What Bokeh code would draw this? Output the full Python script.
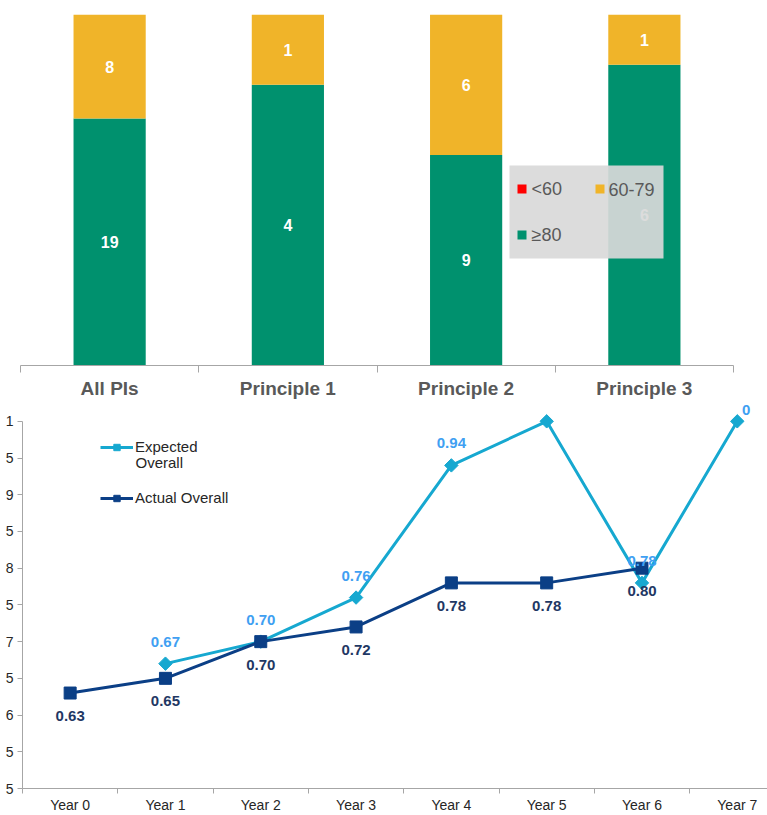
import numpy as np
from bokeh.plotting import figure
from bokeh.models import (ColumnDataSource, FixedTicker, Range1d, Legend, LegendItem,
                          BoxAnnotation, Label)
from bokeh.core.properties import value
from bokeh.embed import file_html
from bokeh.resources import INLINE

# ---------------- data: top chart (stacked 100% bars) ----------------
categories = ["All PIs", "Principle 1", "Principle 2", "Principle 3"]
count_below60 = [0, 0, 0, 0]
count_60_79 = [8, 1, 6, 1]
count_80_up = [19, 4, 9, 6]
band_names = ["<60", "60-79", "≥80"]

# ---------------- data: bottom chart (lines) ----------------
years = ["Year 0", "Year 1", "Year 2", "Year 3", "Year 4", "Year 5", "Year 6", "Year 7"]
expected_overall = [np.nan, 0.67, 0.70, 0.76, 0.94, 1.00, 0.78, 1.00]
actual_overall = [0.63, 0.65, 0.70, 0.72, 0.78, 0.78, 0.80, np.nan]
expected_labels = ["", "0.67", "0.70", "0.76", "0.94", "", "0.78", "0"]
actual_labels = ["0.63", "0.65", "0.70", "0.72", "0.78", "0.78", "0.80", ""]
y_ticks = [0.5, 0.55, 0.6, 0.65, 0.7, 0.75, 0.8, 0.85, 0.9, 0.95, 1.0]
y_tick_labels = ["5", "5", "6", "5", "7", "5", "8", "5", "9", "5", "1"]

FONT = "Liberation Sans"
GREEN = "#00916E"
YELLOW = "#F0B429"
RED = "#FF0000"
EXP = "#16A8D0"
ACT = "#0B3F86"
EXP_TXT = "#3FA0F2"
ACT_TXT = "#1F3864"
AXIS = "#A6A6A6"

# ================= top figure =================
x_top = np.arange(len(categories))
lo = np.array(count_below60, float)
mid = np.array(count_60_79, float)
hi = np.array(count_80_up, float)
tot = lo + mid + hi
src_top = ColumnDataSource(dict(x=x_top, ge80=hi / tot, mid=mid / tot, lt60=lo / tot))

p1 = figure(width=767, height=401, x_range=Range1d(-0.5, len(categories) - 0.5),
            y_range=Range1d(0, 1), output_backend="svg", toolbar_location=None,
            min_border_left=20, min_border_right=34, min_border_top=14, min_border_bottom=35)
p1.vbar_stack(["ge80", "mid", "lt60"], x="x", width=0.405, source=src_top,
              fill_color=[GREEN, YELLOW, RED], line_color=None)

lx, ly, lt = [], [], []
for i in range(len(categories)):
    if hi[i] > 0:
        lx.append(x_top[i]); ly.append(hi[i] / tot[i] / 2); lt.append(str(count_80_up[i]))
    if mid[i] > 0:
        lx.append(x_top[i]); ly.append(hi[i] / tot[i] + mid[i] / tot[i] / 2); lt.append(str(count_60_79[i]))
p1.text(x=lx, y=ly, text=lt, text_color="white", text_font=value(FONT),
        text_font_style="bold", text_font_size="16px", text_align="center",
        text_baseline="middle")

p1.yaxis.visible = False
p1.xgrid.visible = False
p1.ygrid.visible = False
p1.outline_line_color = None
ax = p1.xaxis[0]
ax.ticker = FixedTicker(ticks=[int(v) for v in x_top],
                        minor_ticks=[v - 0.5 for v in range(len(categories) + 1)])
ax.major_label_overrides = {int(i): c for i, c in enumerate(categories)}
ax.axis_line_color = AXIS
ax.major_tick_line_color = None
ax.major_tick_out = 0
ax.major_tick_in = 0
ax.minor_tick_line_color = AXIS
ax.minor_tick_out = 7
ax.minor_tick_in = 0
ax.major_label_text_font = FONT
ax.major_label_text_font_style = "bold"
ax.major_label_text_font_size = "19px"
ax.major_label_text_color = "#595959"
ax.major_label_standoff = 5

# manual legend (screen units relative to frame bottom-left)
scr = dict(left_units="screen", right_units="screen", top_units="screen", bottom_units="screen")
p1.add_layout(BoxAnnotation(left=489, right=643, bottom=107, top=200, fill_color="#D9D9D9",
                            fill_alpha=0.92, line_color=None, **scr))
sw = [(497, 172, RED, band_names[0], 511), (575, 172, YELLOW, band_names[1], 588),
      (497, 126, GREEN, band_names[2], 511)]
for sx, sy, col, name, tx in sw:
    p1.add_layout(BoxAnnotation(left=sx, right=sx + 9, bottom=sy, top=sy + 9, fill_color=col,
                                fill_alpha=1, line_color=None, **scr))
    p1.add_layout(Label(x=tx, y=sy + 4.5, x_units="screen", y_units="screen", text=name,
                        text_font=FONT, text_font_size="18px", text_color="#595959",
                        text_baseline="middle"))

# ================= bottom figure =================
x_bot = np.arange(len(years))
p2 = figure(width=767, height=414, x_range=Range1d(-0.5, 7.317), y_range=Range1d(0.5, 1.027),
            output_backend="svg", toolbar_location=None,
            min_border_left=22, min_border_right=0, min_border_top=0, min_border_bottom=27)
p2.xgrid.visible = False
p2.ygrid.visible = False
p2.outline_line_color = None

exp_line = p2.line(x_bot, expected_overall, line_color=EXP, line_width=3)
exp_pts = p2.scatter(x_bot, expected_overall, marker="square", angle=np.pi / 4, size=9.5,
                     fill_color=EXP, line_color=EXP)
act_line = p2.line(x_bot, actual_overall, line_color=ACT, line_width=3)
act_pts = p2.scatter(x_bot, actual_overall, marker="square", size=12,
                     fill_color=ACT, line_color=ACT)

last = len(years) - 1
exp_src = ColumnDataSource(dict(x=x_bot, y=expected_overall, t=expected_labels,
                                xo=[9 if i == last else 0 for i in range(len(years))],
                                yo=[-11 if i == last else -22 for i in range(len(years))]))
p2.text(x="x", y="y", text="t", x_offset="xo", y_offset="yo", source=exp_src,
        text_color=EXP_TXT, text_font=value(FONT), text_font_style="bold",
        text_font_size="15px", text_align="center", text_baseline="middle")
p2.text(x=x_bot, y=actual_overall, text=actual_labels, y_offset=23,
        text_color=ACT_TXT, text_font=value(FONT), text_font_style="bold",
        text_font_size="15px", text_align="center", text_baseline="middle")

yax = p2.yaxis[0]
yax.ticker = FixedTicker(ticks=y_ticks)
yax.major_label_overrides = dict(zip(y_ticks, y_tick_labels))
yax.bounds = (0.5, 1.0)
yax.axis_line_color = AXIS
yax.major_tick_line_color = AXIS
yax.major_tick_out = 5
yax.major_tick_in = 0
yax.minor_tick_line_color = None
yax.major_label_text_font = FONT
yax.major_label_text_font_size = "14px"
yax.major_label_text_color = "#262626"
yax.major_label_standoff = 4

xax = p2.xaxis[0]
xax.ticker = FixedTicker(ticks=[int(v) for v in x_bot],
                         minor_ticks=[v - 0.5 for v in range(len(years) + 1)])
xax.major_label_overrides = {int(i): y for i, y in enumerate(years)}
xax.axis_line_color = AXIS
xax.major_tick_line_color = None
xax.major_tick_out = 0
xax.major_tick_in = 0
xax.minor_tick_line_color = AXIS
xax.minor_tick_out = 5
xax.minor_tick_in = 0
xax.major_label_text_font = FONT
xax.major_label_text_font_size = "14px"
xax.major_label_text_color = "#262626"
xax.major_label_standoff = 3

legend2 = Legend(items=[LegendItem(label="Expected", renderers=[exp_line, exp_pts]),
                        LegendItem(label="Actual Overall", renderers=[act_line, act_pts])],
                 location=(78, 282), glyph_width=33, glyph_height=16, label_standoff=2,
                 spacing=34, padding=0, margin=0, border_line_color=None,
                 background_fill_alpha=0, label_text_font=FONT, label_text_font_size="15px",
                 label_text_color="#262626")
p2.add_layout(legend2)
p2.add_layout(Label(x=113, y=326, x_units="screen", y_units="screen", text="Overall",
                    text_font=FONT, text_font_size="15px", text_color="#262626",
                    text_baseline="middle"))

open("out.html", "w").write(file_html([p1, p2], INLINE))
